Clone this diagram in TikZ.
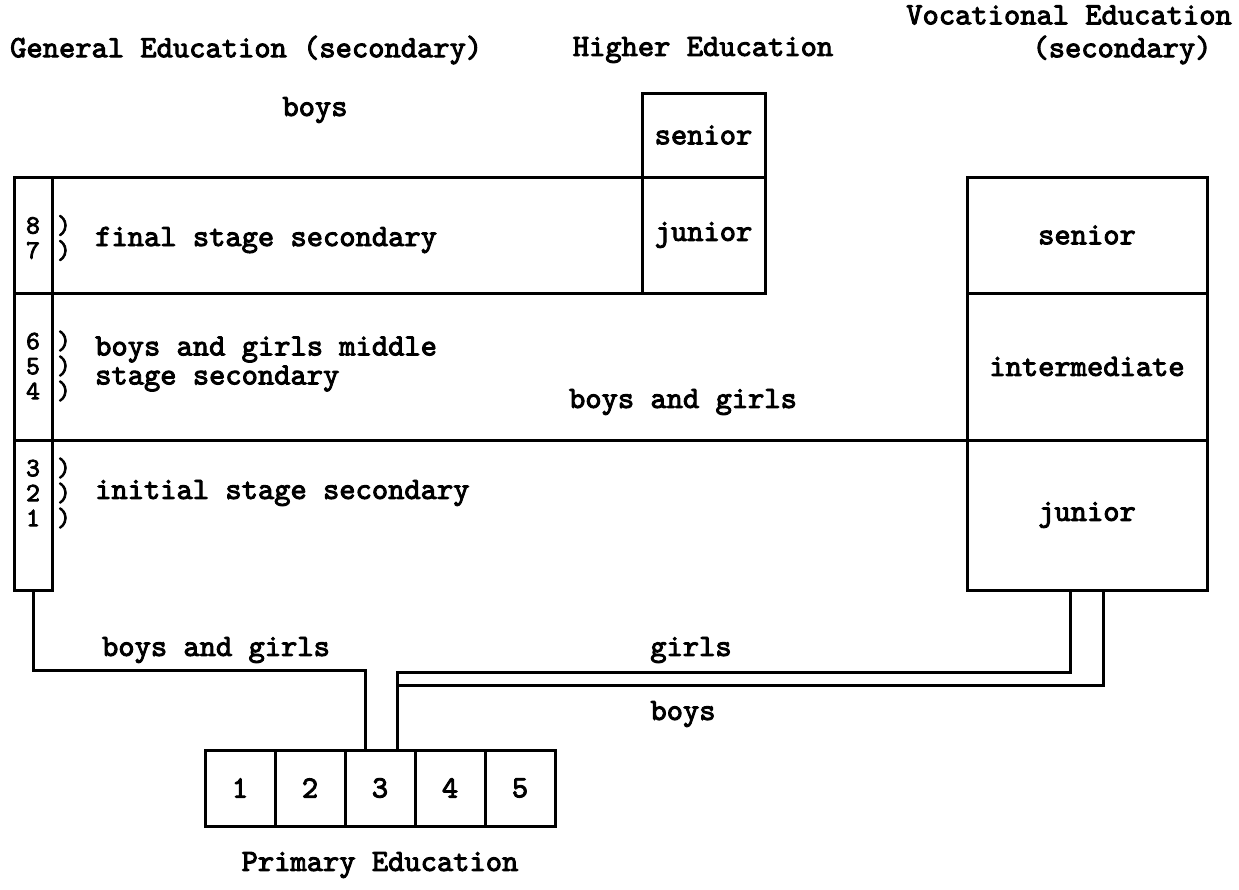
\documentclass[tikz,border=0pt]{standalone}
\usepackage{fontspec}
\newfontfamily\typewriter{lmmono10-regular.otf}[FakeBold=3]
\usepackage{tikz}
\usetikzlibrary{positioning}

\begin{document}
\begin{tikzpicture}[x=1pt, y=-1pt, node distance=0pt,
    every node/.style={font=\typewriter\fontsize{31}{29}\selectfont, inner sep=0pt},
    box/.style={draw, line width=3pt, outer sep=0pt},
    link/.style={line width=3pt},
    years/.style={align=center, font=\typewriter\fontsize{26.5}{25}\selectfont}]
    \useasboundingbox (0,0) rectangle (1239,889);

    \node[anchor=west] (tgen) at (10,50) {General Education (secondary)};
    \node (thigh) at (703,50) {Higher Education};
    \node[anchor=east] (tvoc) at (1232,15) {Vocational Education};
    \node (tvocsec) at (1122,50) {(secondary)};

    \node[box, minimum width=123pt, minimum height=84pt] (hsen) at (703.5,135) {senior};
    \node[box, minimum width=123pt, minimum height=116pt, below=of hsen] (hjun) {junior};

    \node[box, minimum width=38pt, minimum height=116pt] (col8) at (33,235) {};
    \node[box, minimum width=38pt, minimum height=147pt, below=of col8] (col6) {};
    \node[box, minimum width=38pt, minimum height=150pt, below=of col6] (col3) {};

    \node[years] (n87) at (33,238) {8\\7};
    \node[years] (n654) at (33,366) {6\\5\\4};
    \node[years] (n321) at (33,493) {3\\2\\1};
    \node[years] (b87) at (64,238) {)\\)};
    \node[years] (b654) at (64,366) {)\\)\\)};
    \node[years] (b321) at (64,493) {)\\)\\)};

    \node[box, minimum width=240pt, minimum height=116pt] (vsen) at (1087,235) {senior};
    \node[box, minimum width=240pt, minimum height=147pt, below=of vsen] (vint) {intermediate};
    \node[box, minimum width=240pt, minimum height=150pt, below=of vint] (vjun) {junior};

    \draw[link] (col8.north east) -- (hjun.north west);
    \draw[link] (col8.south east) -- (hjun.south west);
    \draw[link] (col6.south east) -- (vint.south west);

    \node (lboystop) at (315,110) {boys};
    \node[anchor=west] (lfinal) at (95,240) {final stage secondary};
    \node[anchor=west, align=left] (lmiddle) at (95,364) {boys and girls middle\\stage secondary};
    \node (lbgmid) at (683,402) {boys and girls};
    \node[anchor=west] (linitial) at (95,493) {initial stage secondary};

    \node[box, minimum width=70pt, minimum height=76pt] (pr1) at (240,788) {1};
    \node[box, minimum width=70pt, minimum height=76pt, right=of pr1] (pr2) {2};
    \node[box, minimum width=70pt, minimum height=76pt, right=of pr2] (pr3) {3};
    \node[box, minimum width=70pt, minimum height=76pt, right=of pr3] (pr4) {4};
    \node[box, minimum width=70pt, minimum height=76pt, right=of pr4] (pr5) {5};
    \node (lprim) at (380,865) {Primary Education};

    \coordinate (jleft) at (365,750);
    \coordinate (jright) at (397,750);
    \coordinate (gtop) at (1070,590);
    \coordinate (btop) at (1103,590);

    \draw[link] (col3.south) -- ++(0,80) -| (jleft);
    \draw[link] (gtop) -- ++(0,82) -| (jright);
    \draw[link] (btop) -- ++(0,95) -| (jright);

    \node (lbgbot) at (216,650) {boys and girls};
    \node (lgirls) at (691,650) {girls};
    \node (lboys) at (683,714) {boys};
\end{tikzpicture}
\end{document}
